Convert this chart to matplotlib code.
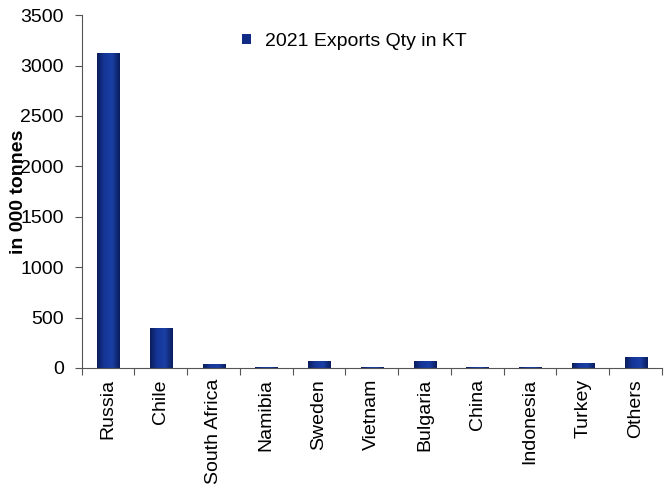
import numpy as np
import matplotlib.pyplot as plt
from matplotlib.colors import LinearSegmentedColormap

plt.rcParams['font.family'] = ['Liberation Sans', 'DejaVu Sans']

countries = ['Russia', 'Chile', 'South Africa', 'Namibia', 'Sweden', 'Vietnam',
             'Bulgaria', 'China', 'Indonesia', 'Turkey', 'Others']
exports_kt = [3125, 395, 35, 5, 70, 5, 70, 5, 5, 50, 110]

fig = plt.figure(figsize=(6.7, 4.9), dpi=100)
ax = fig.add_axes([0.122, 0.249, 0.866, 0.72])

x = np.arange(len(countries))
bars = ax.bar(x, exports_kt, width=0.42, color='#112b85', label='2021 Exports Qty in KT')

# shade each bar darker at the edges, lighter in the middle
shade = LinearSegmentedColormap.from_list('shade', ['#0a1d5c', '#16379a', '#1a3ea3', '#0a1d5c'])
grad = np.linspace(0, 1, 64).reshape(1, -1)
for b in bars:
    x0, w, h = b.get_x(), b.get_width(), b.get_height()
    im = ax.imshow(grad, cmap=shade, aspect='auto', extent=(x0, x0 + w, 0, h), zorder=2)
    im.set_clip_path(b)

ax.set_xlim(-0.5, len(countries) - 0.5)
ax.set_ylim(0, 3500)
ax.set_yticks(np.arange(0, 3501, 500))
ax.tick_params(axis='y', labelsize=14, direction='out', length=5, color='#555555', pad=8)

# categories sit between ticks, so ticks go on the boundaries
ax.set_xticks(np.arange(-0.5, len(countries), 1))
ax.set_xticklabels([])
ax.set_xticks(x, minor=True)
ax.set_xticklabels(countries, minor=True, rotation=90, fontsize=14)
ax.tick_params(axis='x', which='major', direction='out', length=5, color='#555555')
ax.tick_params(axis='x', which='minor', length=0, pad=8)

for s in ['top', 'right']:
    ax.spines[s].set_visible(False)
for s in ['left', 'bottom']:
    ax.spines[s].set_color('#555555')

ax.set_ylabel('in 000 tonnes', fontsize=14, fontweight='bold')
ax.yaxis.set_label_coords(-0.094, 0.5)

ax.legend(loc='upper center', bbox_to_anchor=(0.47, 1.0), frameon=False,
          fontsize=14, handlelength=0.45, handleheight=0.45, handletextpad=0.7)

fig.savefig('out.png', dpi=100)
